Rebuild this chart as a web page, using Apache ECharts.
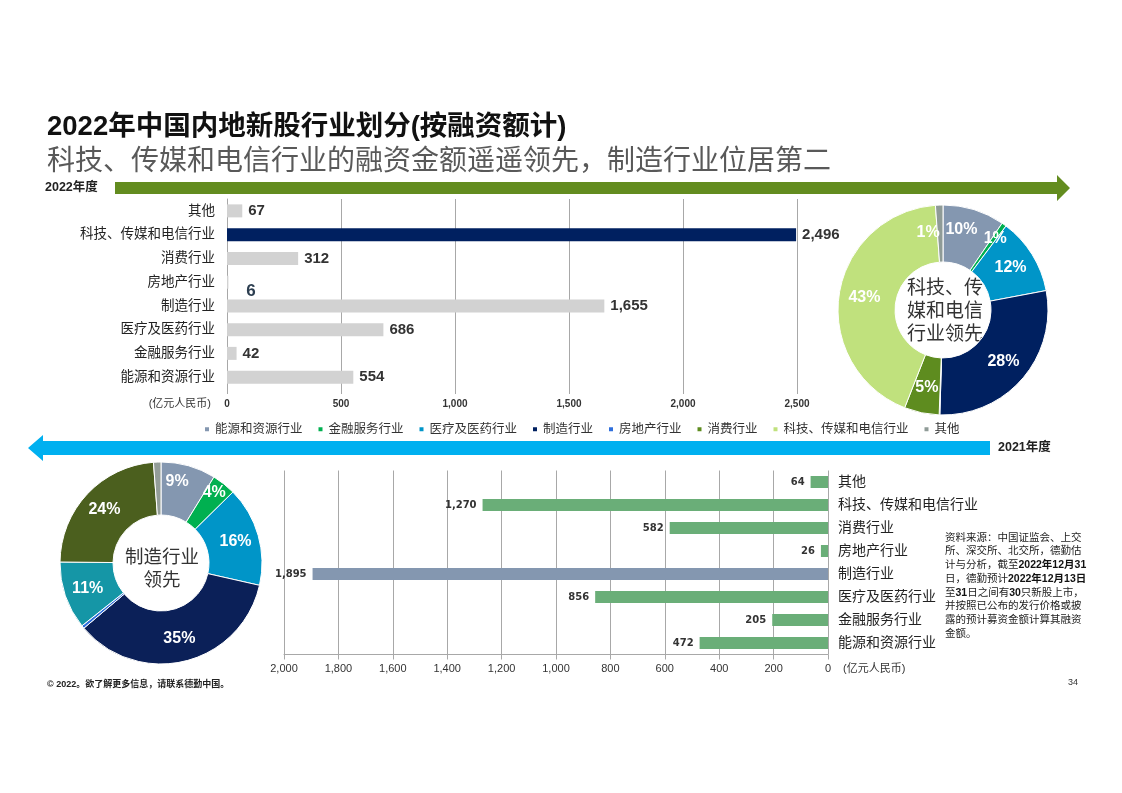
<!DOCTYPE html>
<html><head><meta charset="utf-8">
<script src="https://cdn.jsdelivr.net/npm/echarts@6/dist/echarts.min.js"></script>
<style>html,body{margin:0;padding:0;background:#fff}#c{width:1122px;height:793px}</style>
</head><body><div id="c"></div>
<script>
// ---- data ----
var categories = ['能源和资源行业','金融服务行业','医疗及医药行业','制造行业','房地产行业','消费行业','科技、传媒和电信行业','其他'];
var values2022 = [554, 42, 686, 1655, 6, 312, 2496, 67];
var values2021 = [472, 205, 856, 1895, 26, 582, 1270, 64];
var ticks2022 = [0, 500, 1000, 1500, 2000, 2500];
var ticks2021 = [0, 200, 400, 600, 800, 1000, 1200, 1400, 1600, 1800, 2000];

// ---- styles ----
var FONT = '"Liberation Sans", "Noto Sans CJK SC", sans-serif';
var pieColors2022 = ['#8497b0','#00b050','#0095c8','#002060','#2f6fdc','#5e8c1f','#c0e17d','#8f9b97'];
var pieColors2021 = ['#8497b0','#00b050','#0095c8','#0b2058','#2f6fdc','#1596a6','#4b5f1e','#939d98'];
var fmt = function (v) { return String(v).replace(/\B(?=(\d{3})+(?!\d))/g, ','); };

var topBarData = values2022.map(function (v, i) {
  var item = { value: v, itemStyle: { color: i === 6 ? '#002060' : '#d2d2d2' } };
  if (i === 4) item.label = { offset: [12, 9], fontSize: 17, color: '#2c3e50' };
  return item;
});
var botBarData = values2021.map(function (v, i) {
  return { value: v, itemStyle: { color: i === 3 ? '#8497b0' : '#6aae78' } };
});
var pieFmt = function (p) { return p.percent < 0.6 ? '' : Math.round(p.percent) + '%'; };
var topPieData = values2022.map(function (v, i) {
  var d = { name: categories[i], value: v, itemStyle: { color: pieColors2022[i] } };
  if (i === 7) d.label = { offset: [-12, 2] };
  if (i === 1) d.label = { offset: [6, -7] };
  if (i === 0) d.label = { offset: [-5, -4] };
  return d;
});
var botPieData = values2021.map(function (v, i) {
  var d = { name: categories[i], value: v, itemStyle: { color: pieColors2021[i] } };
  if (i === 0) d.label = { offset: [-5, -7] };
  if (i === 1) d.label = { offset: [5, -10] };
  return d;
});

var chart = echarts.init(document.getElementById('c'), null, { renderer: 'canvas' });
var gridLine = { show: true, lineStyle: { color: '#a8a8a8', width: 1 } };

chart.setOption({
  backgroundColor: '#fff',
  animation: false,
  textStyle: { fontFamily: FONT },
  legend: {
    data: categories, left: 198, top: 418, itemWidth: 6, itemHeight: 6, itemGap: 14,
    icon: 'rect', selectedMode: false,
    textStyle: { fontSize: 12.5, color: '#333', fontFamily: FONT }
  },
  grid: [
    { left: 227, top: 199, width: 570, height: 190, containLabel: false },
    { left: 284, top: 470.5, width: 544, height: 184, containLabel: false }
  ],
  xAxis: [
    { gridIndex: 0, type: 'value', min: ticks2022[0], max: ticks2022[ticks2022.length - 1], interval: ticks2022[1] - ticks2022[0],
      axisLine: { show: false }, axisTick: { show: true, length: 5, lineStyle: { color: '#a8a8a8' } },
      splitLine: gridLine,
      axisLabel: { fontSize: 10, fontWeight: 'bold', color: '#333', margin: 10, formatter: fmt } },
    { gridIndex: 1, type: 'value', inverse: true, min: ticks2021[0], max: ticks2021[ticks2021.length - 1], interval: ticks2021[1] - ticks2021[0],
      axisLine: { show: true, lineStyle: { color: '#a8a8a8' } }, axisTick: { show: true, length: 5, lineStyle: { color: '#a8a8a8' } },
      splitLine: gridLine,
      axisLabel: { fontSize: 11, color: '#333', margin: 9, formatter: fmt } }
  ],
  yAxis: [
    { gridIndex: 0, type: 'category', data: categories,
      axisLine: { show: true, lineStyle: { color: '#a8a8a8' } }, axisTick: { show: false },
      axisLabel: { fontSize: 13.5, color: '#222', margin: 12 } },
    { gridIndex: 1, type: 'category', data: categories, position: 'right',
      axisLine: { show: false }, axisTick: { show: false },
      axisLabel: { fontSize: 14, color: '#222', margin: 10 } }
  ],
  series: [
    { type: 'bar', xAxisIndex: 0, yAxisIndex: 0, data: topBarData, barWidth: 13,
      label: { show: true, position: 'right', distance: 6, formatter: function (p) { return fmt(p.value); },
               fontSize: 15, fontWeight: 'bold', color: '#333', fontFamily: FONT } },
    { type: 'bar', xAxisIndex: 1, yAxisIndex: 1, data: botBarData, barWidth: 12,
      label: { show: true, position: 'left', distance: 6, formatter: function (p) { return fmt(p.value); },
               fontSize: 10, fontWeight: 'bold', color: '#333', fontFamily: '"DejaVu Sans", sans-serif' } },
    { type: 'pie', name: '2022', center: [943, 310], radius: [48, 105], startAngle: 90, clockwise: true,
      avoidLabelOverlap: false, data: topPieData, emphasis: { disabled: true },
      itemStyle: { borderColor: '#fff', borderWidth: 1 },
      label: { show: true, position: 'inside', formatter: pieFmt, color: '#fff', fontSize: 16, fontWeight: 'bold', fontFamily: FONT },
      labelLine: { show: false } },
    { type: 'pie', name: '2021', center: [161, 563], radius: [48, 101], startAngle: 90, clockwise: true,
      avoidLabelOverlap: false, data: botPieData, emphasis: { disabled: true },
      itemStyle: { borderColor: '#fff', borderWidth: 1 },
      label: { show: true, position: 'inside', formatter: pieFmt, color: '#fff', fontSize: 16, fontWeight: 'bold', fontFamily: FONT },
      labelLine: { show: false } }
  ],
  graphic: [
    { type: 'text', x: 47, y: 127, style: { text: '2022年中国内地新股行业划分(按融资额计)', fill: '#111', fontSize: 27.5, fontWeight: 'bold', fontFamily: FONT, align: 'left', verticalAlign: 'middle' } },
    { type: 'text', x: 47, y: 162, style: { text: '科技、传媒和电信行业的融资金额遥遥领先，制造行业位居第二', fill: '#595959', fontSize: 28, fontFamily: FONT, align: 'left', verticalAlign: 'middle' } },
    { type: 'text', x: 45, y: 188, style: { text: '2022年度', fill: '#222', fontSize: 12.5, fontWeight: 'bold', fontFamily: FONT, align: 'left', verticalAlign: 'middle' } },
    { type: 'polygon', shape: { points: [[115,182],[1057,182],[1057,175],[1070,188],[1057,201],[1057,194],[115,194]] }, style: { fill: '#638c1f' } },
    { type: 'polygon', shape: { points: [[990,441],[43,441],[43,435],[28,448],[43,461],[43,455],[990,455]] }, style: { fill: '#00b0f0' } },
    { type: 'text', x: 998, y: 448, style: { text: '2021年度', fill: '#222', fontSize: 12.5, fontWeight: 'bold', fontFamily: FONT, align: 'left', verticalAlign: 'middle' } },
    { type: 'text', x: 211, y: 404, style: { text: '(亿元人民币)', fill: '#333', fontSize: 11, fontFamily: FONT, align: 'right', verticalAlign: 'middle' } },
    { type: 'text', x: 843, y: 669, style: { text: '(亿元人民币)', fill: '#333', fontSize: 11, fontFamily: FONT, align: 'left', verticalAlign: 'middle' } },
    { type: 'text', x: 945, y: 312, style: { text: '科技、传\n媒和电信\n行业领先', fill: '#333', fontSize: 19, lineHeight: 23, fontFamily: FONT, align: 'center', verticalAlign: 'middle' } },
    { type: 'text', x: 162, y: 569, style: { text: '制造行业\n领先', fill: '#333', fontSize: 18.5, lineHeight: 23, fontFamily: FONT, align: 'center', verticalAlign: 'middle' } },
    { type: 'text', x: 945, y: 531, style: {
        text: '资料来源：中国证监会、上交\n所、深交所、北交所，德勤估\n计与分析，截至{b|2022年12月31}\n日，德勤预计{b|2022年12月13日}\n至{b|31}日之间有{b|30}只新股上市，\n并按照已公布的发行价格或披\n露的预计募资金额计算其融资\n金额。',
        fill: '#222', fontSize: 10.5, lineHeight: 13.7, fontFamily: FONT, align: 'left', verticalAlign: 'top',
        rich: { b: { fontSize: 10.5, lineHeight: 13.7, fontWeight: 'bold', fontFamily: FONT, fill: '#111' } } } },
    { type: 'text', x: 47, y: 685, style: { text: '© 2022。欲了解更多信息，请联系德勤中国。', fill: '#222', fontSize: 9, fontWeight: 'bold', fontFamily: FONT, align: 'left', verticalAlign: 'middle' } },
    { type: 'text', x: 1068, y: 683, style: { text: '34', fill: '#333', fontSize: 9, fontFamily: FONT, align: 'left', verticalAlign: 'middle' } }
  ]
});
</script></body></html>
